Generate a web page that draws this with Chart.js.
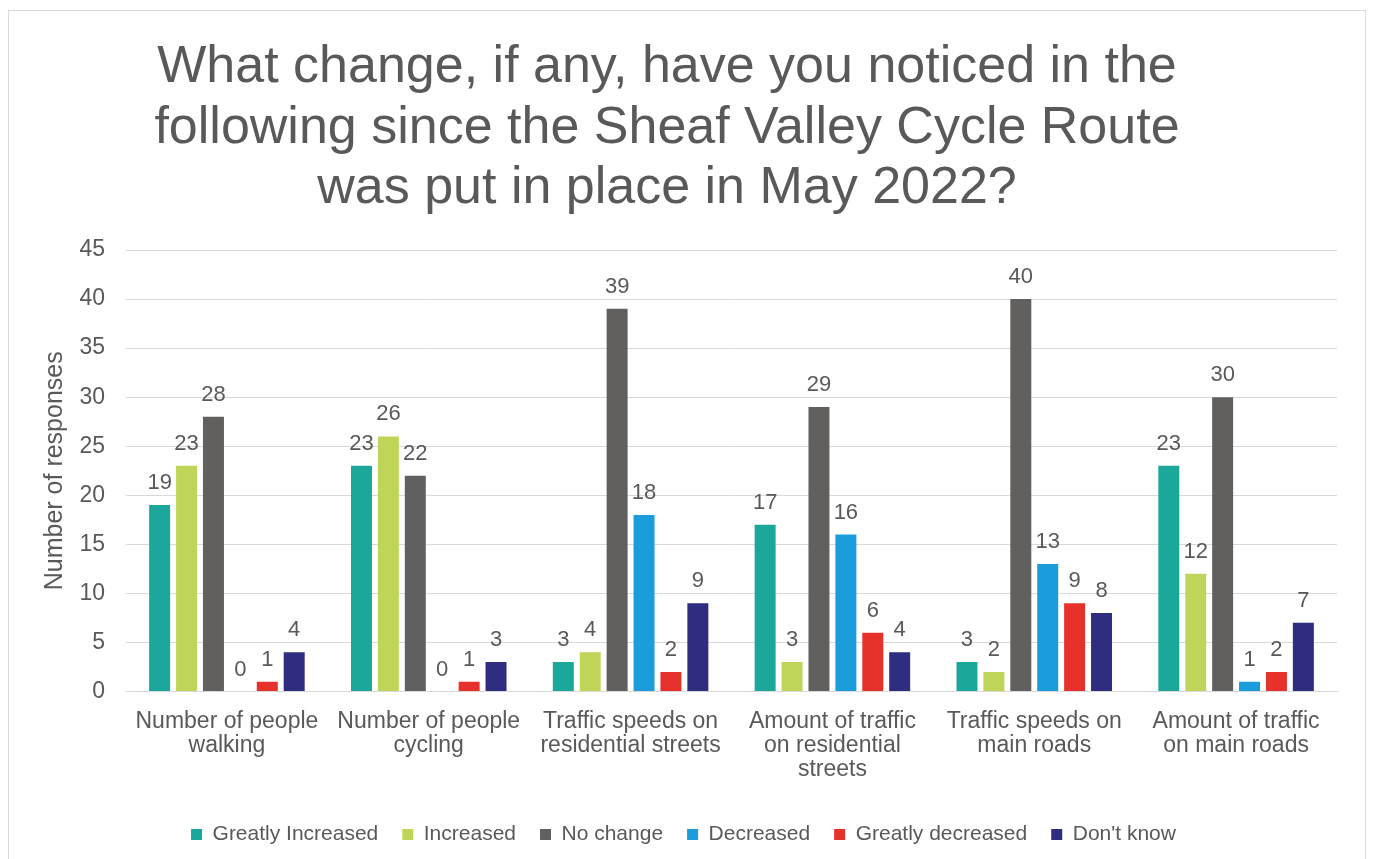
<!DOCTYPE html>
<html>
<head>
<meta charset="utf-8">
<script src="https://cdn.jsdelivr.net/npm/chart.js@4"></script>
<style>
  html, body { margin: 0; padding: 0; background: #fff; }
  #frame {
    position: absolute; left: 8px; top: 10px; width: 1358px; height: 860px;
    border: 1px solid #d9d9d9; box-sizing: border-box;
  }
  #wrap { position: absolute; left: 0; top: 0; width: 1373px; height: 859px; }
</style>
</head>
<body>
<div id="frame"></div>
<div id="wrap"><canvas id="survey-chart"></canvas></div>
<script>
// survey answers per question
const categories = [
  ["Number of people", "walking"],
  ["Number of people", "cycling"],
  ["Traffic speeds on", "residential streets"],
  ["Amount of traffic", "on residential", "streets"],
  ["Traffic speeds on", "main roads"],
  ["Amount of traffic", "on main roads"]
];

const greatlyIncreased = [19, 23, 3, 17, 3, 23];
const increased        = [23, 26, 4, 3, 2, 12];
const noChange         = [28, 22, 39, 29, 40, 30];
const decreased        = [0, 0, 18, 16, 13, 1];
const greatlyDecreased = [1, 1, 2, 6, 9, 2];
const dontKnow         = [4, 3, 9, 4, 8, 7];

const yTicks = [0, 5, 10, 15, 20, 25, 30, 35, 40, 45];

const titleLines = [
  "What change, if any, have you noticed in the",
  "following since the Sheaf Valley Cycle Route",
  "was put in place in May 2022?"
];

const textGrey = "#595959";
const fontFam = "'Liberation Sans', Arial, sans-serif";

// title drawn by hand: the chart's title sits a bit left of the canvas centre
const bigTitle = {
  id: "bigTitle",
  afterDraw(chart) {
    const ctx = chart.ctx;
    ctx.save();
    ctx.fillStyle = textGrey;
    ctx.font = "52px " + fontFam;
    ctx.textAlign = "center";
    ctx.textBaseline = "alphabetic";
    titleLines.forEach((line, i) => ctx.fillText(line, 667, 82 + i * 60.5));
    ctx.restore();
  }
};

// value labels above bars (no datalabels plugin available offline)
const valueLabels = {
  id: "valueLabels",
  afterDatasetsDraw(chart) {
    const ctx = chart.ctx;
    ctx.save();
    ctx.fillStyle = textGrey;
    ctx.font = "22px " + fontFam;
    ctx.textAlign = "center";
    ctx.textBaseline = "alphabetic";
    chart.data.datasets.forEach((ds, i) => {
      const meta = chart.getDatasetMeta(i);
      meta.data.forEach((bar, j) => {
        ctx.fillText(String(ds.data[j]), bar.x, bar.y - 16);
      });
    });
    ctx.restore();
  }
};

const series = [
  { label: "Greatly Increased", data: greatlyIncreased, color: "#1ba89a" },
  { label: "Increased",         data: increased,        color: "#bed55a" },
  { label: "No change",         data: noChange,         color: "#625f5f" },
  { label: "Decreased",         data: decreased,        color: "#1b9ddb" },
  { label: "Greatly decreased", data: greatlyDecreased, color: "#e7322b" },
  { label: "Don't know",        data: dontKnow,         color: "#2e2d80" }
];

new Chart(document.getElementById("survey-chart"), {
  type: "bar",
  data: {
    labels: categories,
    datasets: series.map(s => ({
      label: s.label,
      data: s.data,
      backgroundColor: s.color,
      borderWidth: 0,
      categoryPercentage: 0.8,
      barPercentage: 0.78
    }))
  },
  options: {
    responsive: true,
    maintainAspectRatio: false,
    animation: false,
    layout: { padding: { left: 30, right: 36, top: 250, bottom: 4 } },
    plugins: {
      title: { display: false },
      legend: {
        position: "bottom",
        labels: {
          color: textGrey,
          font: { family: fontFam, size: 21 },
          boxWidth: 11,
          boxHeight: 11,
          padding: 24
        }
      },
      tooltip: { enabled: false }
    },
    scales: {
      x: {
        grid: { display: false, drawTicks: false },
        border: { color: "#d9d9d9" },
        ticks: {
          color: textGrey,
          font: { family: fontFam, size: 23, lineHeight: 1.05 },
          maxRotation: 0,
          autoSkip: false,
          padding: 18
        }
      },
      y: {
        min: 0,
        max: 45,
        afterBuildTicks(axis) { axis.ticks = yTicks.map(v => ({ value: v })); },
        afterFit(axis) { axis.width = 96; },
        grid: { color: "#d9d9d9", lineWidth: 1, drawTicks: false },
        border: { display: false },
        ticks: {
          color: textGrey,
          font: { family: fontFam, size: 23 },
          padding: 21
        },
        title: {
          display: true,
          text: "Number of responses",
          color: textGrey,
          font: { family: fontFam, size: 25 },
          padding: { top: 10, bottom: 0 }
        }
      }
    }
  },
  plugins: [valueLabels, bigTitle]
});
</script>
</body>
</html>
